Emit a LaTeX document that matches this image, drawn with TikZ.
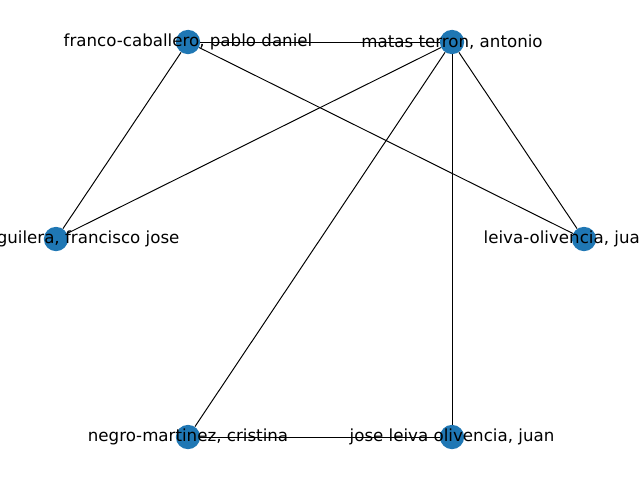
\documentclass[tikz,border=0pt]{standalone}
\usepackage{fontspec}
\setmainfont{DejaVu Sans}
\definecolor{nxblue}{HTML}{1F77B4}
\begin{document}
\begin{tikzpicture}[x=0.72pt,y=-0.72pt,
  dot/.style={circle,fill=nxblue,draw=none,minimum size=17.5pt,inner sep=0pt},
  lbl/.style={font=\fontsize{12pt}{14pt}\selectfont,inner sep=0pt,text=black},
  edge/.style={draw=black,line width=0.7pt}]
\useasboundingbox (0,0) rectangle (640,480);
\clip (0,0) rectangle (640,480);
\node[dot] (fr) at (188,42) {};
\node[dot] (ma) at (452,42) {};
\node[dot] (ag) at (56,239) {};
\node[dot] (le) at (584,239) {};
\node[dot] (ne) at (188,437) {};
\node[dot] (jo) at (452,437) {};
\draw[edge] (fr) -- (ma);
\draw[edge] (fr) -- (ag);
\draw[edge] (fr) -- (le);
\draw[edge] (ma) -- (ag);
\draw[edge] (ma) -- (le);
\draw[edge] (ma) -- (ne);
\draw[edge] (ma) -- (jo);
\draw[edge] (ne) -- (jo);
\node[lbl] (lfr) at (fr) {franco-caballero, pablo daniel};
\node[lbl] (lma) at (ma) {matas terron, antonio};
\node[lbl] (lag) at ([xshift=27*0.72pt]ag) {aguilera, francisco jose};
\node[lbl] (lle) at ([xshift=-17*0.72pt]le) {leiva-olivencia, juan};
\node[lbl] (lne) at (ne) {negro-martinez, cristina};
\node[lbl] (ljo) at (jo) {jose leiva olivencia, juan};
\end{tikzpicture}
\end{document}
